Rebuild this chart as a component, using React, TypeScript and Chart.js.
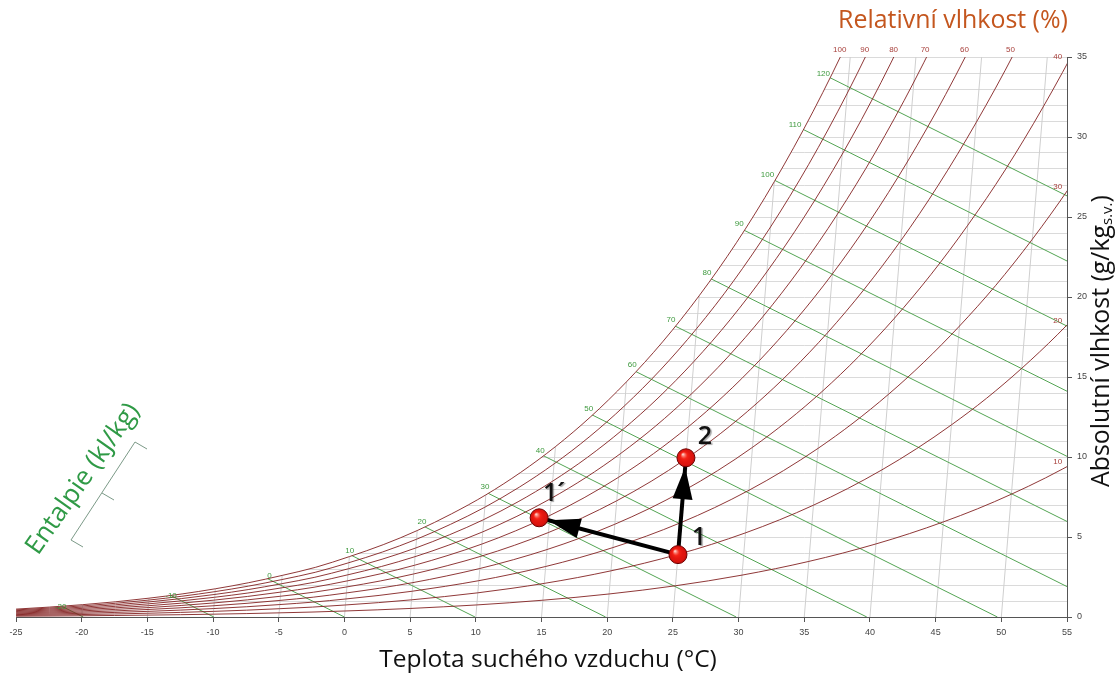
import React, { useEffect, useRef } from "react";
import { Chart, registerables } from "chart.js";

Chart.register(...registerables);

// ---- data ----
// dry-bulb temperature table (°C) and saturation vapour pressure of water (kPa)
const tableTemps = [-27.5, -25, -22.5, -20, -17.5, -15, -12.5, -10, -7.5, -5, -2.5, 0, 2.5, 5, 7.5, 10, 12.5, 15, 17.5, 20, 22.5, 25, 27.5, 30, 32.5, 35, 37.5, 40, 42.5, 45, 47.5, 50, 52.5, 55];
const satPressure = [0.0643, 0.0807, 0.101, 0.1254, 0.155, 0.1912, 0.2344, 0.2865, 0.348, 0.4217, 0.5036, 0.6112, 0.731, 0.8726, 1.039, 1.2282, 1.45, 1.7057, 2.0, 2.3392, 2.726, 3.1697, 3.673, 4.2467, 4.895, 5.6286, 6.455, 7.3844, 8.426, 9.5944, 10.89, 12.351, 13.97, 15.761];
const rhLevels = [100, 90, 80, 70, 60, 50, 40, 30, 20, 10];
const enthalpyLevels = [-20, -10, 0, 10, 20, 30, 40, 50, 60, 70, 80, 90, 100, 110, 120];
const dryBulbLines = [-20, -15, -10, -5, 0, 5, 10, 15, 20, 25, 30, 35, 40, 45, 50];

// state points: dry-bulb temperature (°C), absolute humidity (g/kg)
const stateNames = ["1", "1´", "2"];
const stateT = [25, 14.2, 25];
const stateW = [3.9, 6.2, 9.95];
const arrowPairs = [[0, 1], [0, 2]];

// label anchors (chart units)
const rhTopLabels = ["100", "90", "80", "70", "60", "50"];
const rhTopLabelX = [37.7, 39.6, 41.8, 44.2, 47.2, 50.7];
const rhRightLabels = ["40", "30", "20", "10"];
const rhRightLabelW = [35.0, 26.9, 18.5, 9.7];
const enthalpyLabelX = [-21.6, -13.2, -5.7, 0.4, 5.9, 10.7, 14.9, 18.6, 21.9, 24.85, 27.6, 30.05, 32.2, 34.3, 36.45];
const enthalpyLabelW = [0.66, 1.33, 2.56, 4.14, 5.96, 8.14, 10.39, 13.04, 15.75, 18.56, 21.52, 24.56, 27.63, 30.79, 33.98];

const PRESSURE = 101.325;
const SKEW = 0.1; // horizontal shift of dry-bulb lines per g/kg
const CP = 1.006;
const ENTH_W = 2.457;

const FONT = "'Open Sans', 'Noto Sans', sans-serif";
const TICKFONT = "'Liberation Sans', Arial, sans-serif";

function fitSize(ctx: CanvasRenderingContext2D, text: string, target: number, weight = "normal") {
  ctx.font = `${weight} 100px ${FONT}`;
  return (100 * target) / ctx.measureText(text).width;
}

export default function App() {
  const ref = useRef<HTMLCanvasElement>(null);

  useEffect(() => {
    document.body.style.margin = "0";
    const canvas = ref.current!;
    const mix = (pv: number) => (622 * pv) / (PRESSURE - pv);
    const disp = (t: number, w: number) => t + SKEW * w;

    const datasets: any[] = [];
    dryBulbLines.forEach((t) =>
      datasets.push({
        data: [{ x: disp(t, 0), y: 0 }, { x: disp(t, 35), y: 35 }],
        borderColor: "#cfcfcf",
        borderWidth: 1,
        order: 10,
      })
    );
    enthalpyLevels.forEach((h) =>
      datasets.push({
        data: [{ x: h / CP, y: 0 }, { x: (h - ENTH_W * 40) / CP, y: 40 }],
        borderColor: "#53a453",
        borderWidth: 1,
        order: 9,
      })
    );
    rhLevels.forEach((rh) => {
      const data = tableTemps.map((t, i) => {
        const w = mix((rh / 100) * satPressure[i]);
        return { x: disp(t, w), y: w };
      });
      datasets.push({
        data,
        borderColor: "rgba(128,28,28,0.88)",
        borderWidth: 1,
        cubicInterpolationMode: "monotone",
        order: rh === 100 ? 5 : 3,
        fill: rh === 100 ? "end" : false,
        backgroundColor: "#ffffff",
      });
    });
    arrowPairs.forEach(([a, b]) =>
      datasets.push({
        data: [
          { x: disp(stateT[a], stateW[a]), y: stateW[a] },
          { x: disp(stateT[b], stateW[b]), y: stateW[b] },
        ],
        borderColor: "#000000",
        borderWidth: 4,
        order: 2,
        arrow: true,
      })
    );
    datasets.push({
      data: stateT.map((t, i) => ({ x: disp(t, stateW[i]), y: stateW[i] })),
      showLine: false,
      order: 1,
      pointRadius: 9,
      pointBorderWidth: 1,
      pointBorderColor: "#6a0000",
      pointBackgroundColor: "#e41a12",
      isPoints: true,
    });

    const annotations = {
      id: "annotations",
      afterDatasetDraw(chart: any, args: any) {
        const ds = chart.data.datasets[args.index];
        const ctx: CanvasRenderingContext2D = chart.ctx;
        if (ds.isPoints) {
          // shading of the state points, at the positions the library computed
          const meta = chart.getDatasetMeta(args.index);
          meta.data.forEach((el: any) => {
            const px = el.x, py = el.y;
            if (!Number.isFinite(px) || !Number.isFinite(py)) return;
            const g = ctx.createRadialGradient(px - 3, py - 3.5, 0.5, px, py, 9);
            g.addColorStop(0, "rgba(255,210,200,0.95)");
            g.addColorStop(0.35, "rgba(255,40,25,0.6)");
            g.addColorStop(0.8, "rgba(200,0,0,0.2)");
            g.addColorStop(1, "rgba(120,0,0,0.5)");
            ctx.save();
            ctx.fillStyle = g;
            ctx.beginPath();
            ctx.arc(px, py, 8.5, 0, Math.PI * 2);
            ctx.fill();
            ctx.restore();
          });
          return;
        }
        if (!ds.arrow) return;
        const xs = chart.scales.x;
        const ys = chart.scales.y;
        const [a, b] = ds.data;
        const x1 = xs.getPixelForValue(a.x), y1 = ys.getPixelForValue(a.y);
        const x2 = xs.getPixelForValue(b.x), y2 = ys.getPixelForValue(b.y);
        const len = Math.hypot(x2 - x1, y2 - y1);
        if (!Number.isFinite(len) || len === 0) return;
        const ux = (x2 - x1) / len, uy = (y2 - y1) / len;
        const tipX = x2 - ux * 9.5, tipY = y2 - uy * 9.5;
        const bx = tipX - ux * 32, by = tipY - uy * 32;
        ctx.save();
        ctx.fillStyle = "#000";
        ctx.beginPath();
        ctx.moveTo(tipX, tipY);
        ctx.lineTo(bx - uy * 10, by + ux * 10);
        ctx.lineTo(bx + uy * 10, by - ux * 10);
        ctx.closePath();
        ctx.fill();
        ctx.restore();
      },
      afterDraw(chart: any) {
        const ctx: CanvasRenderingContext2D = chart.ctx;
        const xs = chart.scales.x;
        const ys = chart.scales.y;
        ctx.save();
        // RH labels
        ctx.font = `8px ${TICKFONT}`;
        ctx.fillStyle = "#a8403c";
        ctx.textAlign = "center";
        ctx.textBaseline = "middle";
        rhTopLabels.forEach((s, i) => ctx.fillText(s, xs.getPixelForValue(rhTopLabelX[i]), ys.getPixelForValue(35) - 7));
        rhRightLabels.forEach((s, i) => ctx.fillText(s, xs.getPixelForValue(54.3), ys.getPixelForValue(rhRightLabelW[i])));
        // enthalpy labels
        ctx.fillStyle = "#3f9a3f";
        enthalpyLevels.forEach((h, i) =>
          ctx.fillText(String(h), xs.getPixelForValue(enthalpyLabelX[i]), ys.getPixelForValue(enthalpyLabelW[i]))
        );

        // state point labels
        ctx.font = `600 25px ${FONT}`;
        ctx.fillStyle = "#111";
        ctx.shadowColor = "rgba(0,0,0,0.35)";
        ctx.shadowOffsetX = 1.5;
        ctx.shadowOffsetY = 1.5;
        ctx.shadowBlur = 1;
        const offs = [[21, -17], [15, -24], [19, -21]];
        stateNames.forEach((s, i) => {
          const px = xs.getPixelForValue(disp(stateT[i], stateW[i]));
          const py = ys.getPixelForValue(stateW[i]);
          ctx.fillText(s, px + offs[i][0], py + offs[i][1]);
        });
        ctx.shadowColor = "transparent";
        ctx.shadowOffsetX = 0;
        ctx.shadowOffsetY = 0;
        ctx.shadowBlur = 0;

        // top title
        const t1 = "Relativní vlhkost (%)";
        ctx.font = `${fitSize(ctx, t1, 230)}px ${FONT}`;
        ctx.fillStyle = "#c4561e";
        ctx.fillText(t1, 953, 21);

        // bottom title
        const t2 = "Teplota suchého vzduchu (°C)";
        ctx.font = `${fitSize(ctx, t2, 338)}px ${FONT}`;
        ctx.fillStyle = "#111";
        ctx.textBaseline = "alphabetic";
        ctx.fillText(t2, 548, 667);

        // right title (rotated)
        const mainT = "Absolutní vlhkost (g/kg";
        const subT = "s.v.";
        const endT = ")";
        ctx.font = `100px ${FONT}`;
        const wMain = ctx.measureText(mainT).width;
        const wEnd = ctx.measureText(endT).width;
        const wSub = ctx.measureText(subT).width * 0.6;
        const size = (100 * 292) / (wMain + wEnd + wSub);
        ctx.save();
        ctx.translate(1109, 487);
        ctx.rotate(-Math.PI / 2);
        ctx.textAlign = "left";
        ctx.fillStyle = "#111";
        ctx.font = `${size}px ${FONT}`;
        ctx.fillText(mainT, 0, 0);
        const m = ctx.measureText(mainT).width;
        ctx.font = `${size * 0.6}px ${FONT}`;
        ctx.fillText(subT, m, size * 0.12);
        const s2 = ctx.measureText(subT).width;
        ctx.font = `${size}px ${FONT}`;
        ctx.fillText(endT, m + s2, 0);
        ctx.restore();

        // enthalpy title + bracket
        ctx.strokeStyle = "#7c9a88";
        ctx.lineWidth = 1;
        ctx.beginPath();
        ctx.moveTo(83, 547);
        ctx.lineTo(71, 540);
        ctx.lineTo(135, 442);
        ctx.lineTo(147, 449);
        ctx.moveTo(102, 493);
        ctx.lineTo(114, 500);
        ctx.stroke();

        const t3 = "Entalpie (kJ/kg)";
        ctx.save();
        ctx.translate(83, 479);
        ctx.rotate((-55 * Math.PI) / 180);
        ctx.font = `${fitSize(ctx, t3, 178)}px ${FONT}`;
        ctx.fillStyle = "#2f9a46";
        ctx.textAlign = "center";
        ctx.textBaseline = "middle";
        ctx.fillText(t3, 0, 0);
        ctx.restore();

        ctx.restore();
      },
    };

    const chart = new Chart(canvas, {
      type: "line",
      data: { datasets },
      options: {
        animation: false,
        responsive: false,
        devicePixelRatio: 1,
        events: [],
        layout: { padding: { left: 16, top: 57, right: 0, bottom: 0 } },
        elements: { point: { radius: 0 }, line: { tension: 0 } },
        plugins: { legend: { display: false }, tooltip: { enabled: false } },
        scales: {
          x: {
            type: "linear",
            min: -25,
            max: 55,
            afterFit: (s: any) => {
              s.height = 56;
            },
            ticks: {
              stepSize: 5,
              autoSkip: false,
              maxRotation: 0,
              padding: 5,
              color: "#444",
              font: { family: TICKFONT, size: 9 },
            },
            grid: { drawOnChartArea: false, drawTicks: true, tickLength: 5, tickColor: "#555" },
            border: { color: "#555", width: 1 },
          },
          y: {
            type: "linear",
            position: "right",
            min: 0,
            max: 35,
            afterFit: (s: any) => {
              s.width = 49;
            },
            ticks: {
              stepSize: 1,
              autoSkip: false,
              maxTicksLimit: 100,
              padding: 5,
              color: "#444",
              font: { family: TICKFONT, size: 9 },
              callback: (v: any) => (Number(v) % 5 === 0 ? String(v) : ""),
            },
            grid: {
              color: "#dadada",
              lineWidth: 1,
              tickLength: 5,
              tickColor: (c: any) => (c.tick && c.tick.value % 5 === 0 ? "#555" : "rgba(0,0,0,0)"),
            },
            border: { color: "#555", width: 1 },
          },
        },
      } as any,
      plugins: [annotations],
    });
    return () => chart.destroy();
  }, []);

  return (
    <div style={{ position: "absolute", left: 0, top: 0, width: 1116, height: 673, background: "#fff" }}>
      <canvas ref={ref} width={1116} height={673} style={{ width: 1116, height: 673, display: "block" }} />
    </div>
  );
}
